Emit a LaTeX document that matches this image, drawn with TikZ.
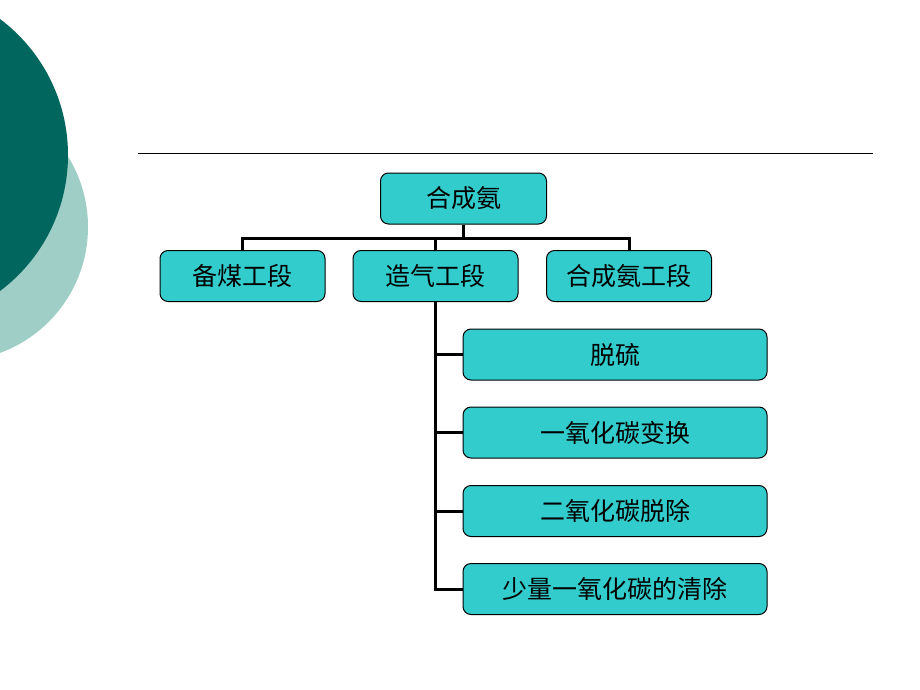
\documentclass[tikz,border=0pt]{standalone}
\usepackage{fontspec}
\newfontfamily\cjk{Noto Sans CJK SC}
\definecolor{darkteal}{RGB}{0,102,94}
\definecolor{paleteal}{RGB}{158,206,198}
\definecolor{boxfill}{RGB}{51,204,204}
\begin{document}
\begin{tikzpicture}[x=1pt, y=-1pt,
    box/.style={rectangle, draw=black, line width=1pt, fill=boxfill, rounded corners=8pt, minimum height=51pt, inner sep=0pt, font=\cjk\fontsize{25}{29}\selectfont},
    topbox/.style={box, minimum width=166pt},
    midbox/.style={box, minimum width=165pt},
    subbox/.style={box, minimum width=304pt},
    link/.style={draw=black, line width=3pt}]
       \clip (0,0) rectangle (920,690);
       \fill[white] (0,0) rectangle (920,690);
       % background circles
       \fill[paleteal] (-46,227) circle (134);
       \fill[darkteal] (-102,155) circle (170);
       \draw[line width=1pt] (138,153) -- (873,153);

       \node[topbox] (top) at (463.5, 198.5) {合成氨};
       \node[midbox] (bei) at (242.5, 276) {备煤工段};
       \node[midbox] (zao) at (435.5, 276) {造气工段};
       \node[midbox] (he) at (629, 276) {合成氨工段};

       \node[subbox] (s1) at (615, 354.5) {脱硫};
       \node[subbox] (s2) at (615, 432.5) {一氧化碳变换};
       \node[subbox] (s3) at (615, 511) {二氧化碳脱除};
       \node[subbox] (s4) at (615, 589) {少量一氧化碳的清除};

       \coordinate (bus) at (463.5, 238);
       \draw[link] (top.south) -- (bus);
       \foreach \n in {bei,zao,he}{\draw[link] (bus) -| (\n.north); }
       \foreach \s in {s1,s2,s3,s4}{\draw[link] (zao.south) |- (\s.west); }
     \end{tikzpicture}
\end{document}
